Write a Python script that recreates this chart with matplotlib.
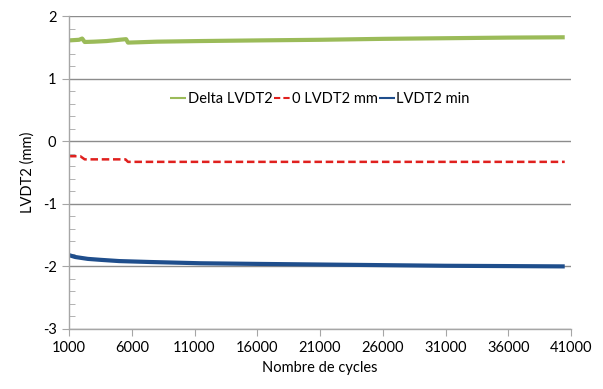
import matplotlib
matplotlib.use("Agg")
import matplotlib.pyplot as plt
from matplotlib.ticker import MultipleLocator, FixedLocator

plt.rcParams['font.family'] = ['Lato', 'DejaVu Sans']
plt.rcParams['axes.unicode_minus'] = False

# Delta LVDT2
x_delta = [1000, 1800, 2050, 2250, 3000, 4000, 5000, 5550, 5700, 6500, 8000, 11500, 16000, 21000, 26000, 31000, 36000, 40500]
y_delta = [1.61, 1.62, 1.64, 1.585, 1.59, 1.60, 1.62, 1.63, 1.575, 1.58, 1.59, 1.60, 1.61, 1.62, 1.635, 1.645, 1.655, 1.66]

# 0 LVDT2 mm
x_zero = [1000, 1900, 2250, 5500, 5700, 40500]
y_zero = [-0.24, -0.24, -0.29, -0.29, -0.33, -0.33]

# LVDT2 min
x_min = [1000, 1500, 2500, 3500, 5000, 7500, 11500, 16000, 21000, 26000, 31000, 36000, 40500]
y_min = [-1.82, -1.85, -1.88, -1.895, -1.915, -1.93, -1.95, -1.96, -1.97, -1.98, -1.99, -1.995, -2.0]

x_ticks = [1000, 6000, 11000, 16000, 21000, 26000, 31000, 36000, 41000]
y_ticks = [-3, -2, -1, 0, 1, 2]

fig = plt.figure(figsize=(6.03, 3.89), dpi=100)
ax = fig.add_axes([69/603, 1-329/389, (571-69)/603, (329-16)/389])

ax.plot(x_delta, y_delta, color='#9bbb59', lw=3, label='Delta LVDT2', solid_capstyle='butt')
ax.plot(x_zero, y_zero, color='#e0201e', lw=1.8, ls=(0, (3, 1.5)), label='0 LVDT2 mm')
ax.plot(x_min, y_min, color='#1f4e8c', lw=3, label='LVDT2 min', solid_capstyle='butt')

ax.set_xlim(1000, 41000)
ax.set_ylim(-3, 2)
ax.xaxis.set_major_locator(FixedLocator(x_ticks))
ax.set_xticklabels([str(t) for t in x_ticks])
ax.yaxis.set_major_locator(FixedLocator(y_ticks))
ax.set_yticklabels([str(t) for t in y_ticks])
ax.yaxis.set_minor_locator(MultipleLocator(0.2))

grid_c = '#8c8c8c'
spine_c = '#a6a6a6'
ax.grid(axis='y', which='major', color=grid_c, lw=1)
ax.set_axisbelow(True)
for s in ['top', 'right']:
    ax.spines[s].set_visible(False)
for s in ['left', 'bottom']:
    ax.spines[s].set_color(spine_c)
    ax.spines[s].set_linewidth(1)
ax.tick_params(axis='both', which='major', direction='out', length=5, color=spine_c, labelsize=10.5, pad=4)
ax.tick_params(axis='y', which='minor', direction='in', length=4, color=spine_c)
ax.tick_params(axis='x', which='minor', length=0)

ax.set_xlabel('Nombre de cycles', fontsize=10.5, labelpad=4)
ax.set_ylabel('LVDT2 (mm)', fontsize=10.5, labelpad=6)

leg = ax.legend(loc='center', bbox_to_anchor=(0.5, 0.735), ncol=3, frameon=False, fontsize=10.5,
                handlelength=1.1, handletextpad=0.1, columnspacing=0.1, borderaxespad=0)
for h in leg.get_lines():
    h.set_linewidth(1.5)

fig.savefig('out.png', dpi=100)
